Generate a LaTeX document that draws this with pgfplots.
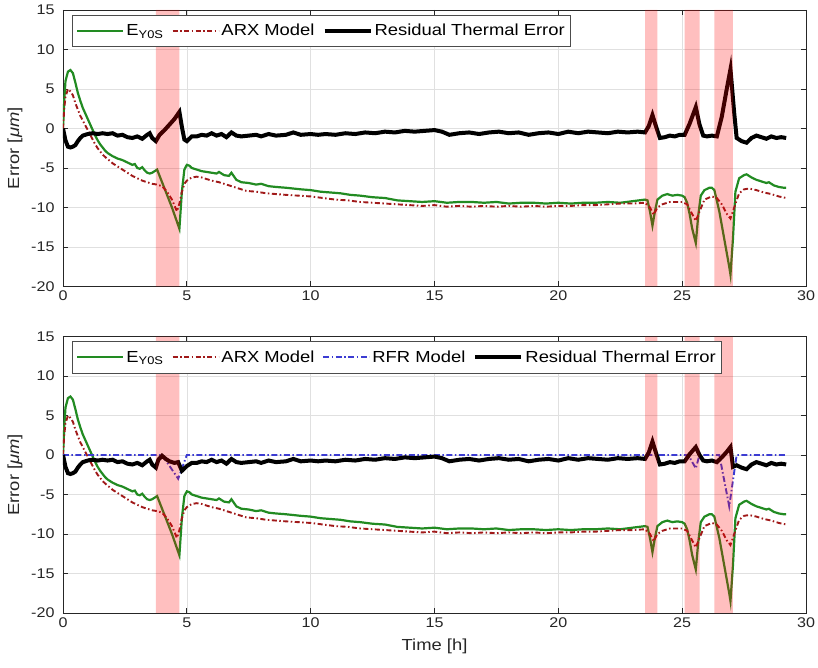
\documentclass[border=0pt]{standalone}
\usepackage{fontspec}
\setmainfont{Liberation Sans}[FakeStretch=1.15]
\usepackage{pgfplots}
\usepackage{pgfplotstable}
\pgfplotsset{compat=1.18}
\definecolor{eg}{RGB}{34,139,34}
\definecolor{arx}{RGB}{160,25,25}
\definecolor{rfr}{RGB}{60,60,210}
\definecolor{axgray}{RGB}{38,38,38}

\pgfplotstableread{
t y
0 0
0.05 3.5
0.1 6.0
0.2 7.2
0.3 7.4
0.4 7.0
0.5 5.8
0.6 4.5
0.7 3.5
0.8 2.6
0.9 1.9
1.0 1.2
1.1 0.5
1.2 -0.2
1.3 -0.9
1.4 -1.5
1.5 -2.0
1.6 -2.4
1.7 -2.8
1.8 -3.1
1.9 -3.3
2.0 -3.5
2.2 -3.8
2.4 -4.0
2.6 -4.3
2.8 -4.6
2.9 -4.5
3.0 -5.0
3.1 -5.1
3.2 -4.9
3.3 -5.3
3.4 -5.6
3.5 -5.7
3.6 -5.6
3.7 -5.4
3.8 -5.2
4.0 -6.8
4.2 -8.4
4.4 -10.0
4.6 -11.8
4.7 -12.7
4.8 -8.0
4.9 -5.2
5.0 -4.6
5.1 -4.7
5.2 -5.0
5.4 -5.2
5.6 -5.4
5.8 -5.5
6.0 -5.6
6.2 -5.7
6.3 -5.5
6.5 -5.9
6.7 -6.0
6.8 -5.6
7.0 -6.5
7.2 -6.8
7.5 -6.9
7.8 -7.1
8.0 -7.0
8.3 -7.3
8.6 -7.4
9.0 -7.5
9.3 -7.6
9.6 -7.7
10.0 -7.8
10.4 -8.0
10.8 -8.1
11.2 -8.2
11.6 -8.4
12.0 -8.5
12.5 -8.7
13.0 -8.8
13.5 -9.1
14.0 -9.2
14.5 -9.3
15.0 -9.2
15.5 -9.4
16.0 -9.3
16.5 -9.3
17.0 -9.4
17.5 -9.3
18.0 -9.5
18.5 -9.4
19.0 -9.4
19.5 -9.5
20.0 -9.4
20.5 -9.5
21.0 -9.4
21.5 -9.4
22.0 -9.3
22.5 -9.4
23.0 -9.2
23.5 -9.0
23.6 -9.1
23.7 -10.5
23.8 -12.3
23.9 -10.5
24.0 -9.0
24.2 -8.5
24.4 -8.3
24.6 -8.5
24.8 -8.4
25.0 -8.5
25.1 -8.7
25.2 -9.4
25.3 -10.8
25.4 -12.6
25.55 -14.5
25.65 -11.0
25.75 -8.5
25.9 -7.8
26.1 -7.5
26.2 -7.5
26.3 -7.8
26.5 -10.5
26.7 -14.0
26.9 -17.5
26.95 -18.5
27.05 -14.0
27.15 -8.0
27.3 -6.3
27.5 -5.9
27.6 -5.8
27.8 -6.2
28.0 -6.5
28.2 -6.7
28.4 -6.9
28.5 -6.8
28.7 -7.2
28.9 -7.4
29.1 -7.5
29.2 -7.5
}\tabE

\pgfplotstableread{
t y
0 0
0.05 2.5
0.1 4.0
0.2 5.0
0.3 4.7
0.4 4.2
0.5 3.2
0.6 2.4
0.7 1.6
0.8 1.0
0.9 0.4
1.0 -0.2
1.1 -0.8
1.2 -1.4
1.3 -2.0
1.4 -2.5
1.5 -2.9
1.6 -3.3
1.7 -3.6
1.8 -3.9
1.9 -4.1
2.0 -4.4
2.2 -4.8
2.4 -5.2
2.6 -5.6
2.8 -6.0
3.0 -6.3
3.2 -6.6
3.4 -6.8
3.6 -7.0
3.8 -7.1
4.0 -7.3
4.2 -8.0
4.4 -9.0
4.6 -10.5
4.7 -9.5
4.8 -8.0
4.9 -7.0
5.0 -6.6
5.2 -6.2
5.4 -6.1
5.6 -6.2
5.8 -6.4
6.0 -6.6
6.3 -6.8
6.6 -7.1
7.0 -7.5
7.4 -7.9
7.8 -8.0
8.2 -8.2
8.6 -8.3
9.0 -8.4
9.5 -8.5
10.0 -8.6
10.5 -8.8
11.0 -9.0
11.5 -9.1
12.0 -9.3
12.5 -9.4
13.0 -9.5
13.5 -9.6
14.0 -9.7
14.5 -9.8
15.0 -9.7
15.5 -9.9
16.0 -9.8
16.5 -9.9
17.0 -9.8
17.5 -9.9
18.0 -9.8
18.5 -9.9
19.0 -9.8
19.5 -9.9
20.0 -9.8
20.5 -9.8
21.0 -9.7
21.5 -9.7
22.0 -9.6
22.5 -9.5
23.0 -9.5
23.5 -9.4
23.7 -10.0
23.85 -10.9
24.0 -10.0
24.2 -9.6
24.5 -9.3
25.0 -9.3
25.2 -9.6
25.4 -10.8
25.55 -11.7
25.7 -10.5
25.9 -9.0
26.2 -8.6
26.4 -8.8
26.6 -9.6
26.8 -10.8
26.95 -11.4
27.1 -10.0
27.3 -8.2
27.5 -7.7
27.7 -7.6
28.0 -7.8
28.3 -8.1
28.6 -8.3
28.9 -8.6
29.2 -8.8
}\tabA

\pgfplotstableread{
t y
0 0
0.1 -1.5
0.2 -2.3
0.3 -2.4
0.4 -2.3
0.5 -2.1
0.6 -1.6
0.7 -1.2
0.8 -0.9
1.0 -0.7
1.2 -0.6
1.4 -0.7
1.6 -0.6
1.8 -0.7
2.0 -0.6
2.2 -0.9
2.4 -0.8
2.6 -1.1
2.8 -1.2
3.0 -1.0
3.2 -1.3
3.4 -0.8
3.5 -0.6
3.6 -1.2
3.75 -1.6
3.9 -0.8
4.1 -0.2
4.3 0.5
4.5 1.2
4.7 2.1
4.8 0.2
4.9 -1.4
5.0 -1.6
5.2 -1.0
5.4 -1.0
5.6 -0.8
5.8 -0.9
6.0 -0.6
6.2 -0.9
6.4 -0.7
6.6 -1.1
6.8 -0.5
7.0 -0.9
7.2 -1.0
7.5 -0.9
7.8 -0.8
8.0 -1.0
8.3 -0.7
8.6 -0.9
9.0 -0.8
9.3 -0.5
9.6 -0.8
10.0 -0.7
10.3 -0.8
10.6 -0.7
11.0 -0.8
11.4 -0.6
11.8 -0.7
12.2 -0.5
12.6 -0.6
13.0 -0.4
13.4 -0.5
13.8 -0.3
14.2 -0.4
14.6 -0.3
15.0 -0.2
15.3 -0.4
15.6 -0.8
16.0 -0.6
16.4 -0.5
16.8 -0.7
17.2 -0.5
17.6 -0.4
18.0 -0.6
18.4 -0.5
18.8 -0.8
19.2 -0.6
19.6 -0.5
20.0 -0.7
20.4 -0.4
20.8 -0.6
21.2 -0.4
21.6 -0.5
22.0 -0.6
22.4 -0.4
22.8 -0.5
23.2 -0.4
23.5 -0.5
23.65 0.3
23.8 1.7
23.95 0.2
24.1 -1.2
24.3 -1.1
24.5 -0.9
24.7 -1.0
24.9 -0.8
25.1 -0.8
25.3 0.6
25.55 2.7
25.7 0.5
25.85 -0.9
26.0 -1.0
26.2 -0.9
26.4 -1.0
26.6 1.5
26.8 5.0
26.95 7.5
27.1 2.0
27.2 -1.2
27.4 -1.6
27.6 -1.8
27.8 -1.2
28.0 -0.9
28.2 -1.1
28.4 -1.3
28.6 -1.0
28.8 -1.2
29.0 -1.1
29.2 -1.2
}\tabR

\pgfplotstableread{
t y
0 0
0.1 -1.5
0.2 -2.3
0.3 -2.4
0.4 -2.3
0.5 -2.1
0.6 -1.6
0.7 -1.2
0.8 -0.9
1.0 -0.7
1.2 -0.6
1.4 -0.7
1.6 -0.6
1.8 -0.7
2.0 -0.6
2.2 -0.9
2.4 -0.8
2.6 -1.1
2.8 -1.2
3.0 -1.0
3.2 -1.3
3.4 -0.8
3.5 -0.6
3.6 -1.2
3.75 -1.6
3.85 -0.6
4.0 -0.1
4.15 -0.5
4.3 -0.8
4.5 -1.0
4.65 -0.9
4.8 -2.0
4.9 -1.7
5.0 -1.4
5.2 -1.0
5.4 -1.0
5.6 -0.8
5.8 -0.9
6.0 -0.6
6.2 -0.9
6.4 -0.7
6.6 -1.1
6.8 -0.5
7.0 -0.9
7.2 -1.0
7.5 -0.9
7.8 -0.8
8.0 -1.0
8.3 -0.7
8.6 -0.9
9.0 -0.8
9.3 -0.5
9.6 -0.8
10.0 -0.7
10.3 -0.8
10.6 -0.7
11.0 -0.8
11.4 -0.6
11.8 -0.7
12.2 -0.5
12.6 -0.6
13.0 -0.4
13.4 -0.5
13.8 -0.3
14.2 -0.4
14.6 -0.3
15.0 -0.2
15.3 -0.4
15.6 -0.8
16.0 -0.6
16.4 -0.5
16.8 -0.7
17.2 -0.5
17.6 -0.4
18.0 -0.6
18.4 -0.5
18.8 -0.8
19.2 -0.6
19.6 -0.5
20.0 -0.7
20.4 -0.4
20.8 -0.6
21.2 -0.4
21.6 -0.5
22.0 -0.6
22.4 -0.4
22.8 -0.5
23.2 -0.4
23.5 -0.5
23.65 0.3
23.8 1.7
23.95 0.2
24.1 -1.2
24.3 -1.1
24.5 -0.9
24.7 -1.0
24.9 -0.8
25.1 -0.8
25.3 0.1
25.55 1.0
25.7 0.0
25.85 -0.7
26.0 -0.8
26.2 -0.7
26.4 -0.9
26.6 -0.3
26.8 0.4
26.95 1.0
27.05 -1.5
27.2 -1.3
27.4 -1.6
27.6 -1.8
27.8 -1.2
28.0 -0.9
28.2 -1.1
28.4 -1.3
28.6 -1.0
28.8 -1.2
29.0 -1.1
29.2 -1.2
}\tabRb

\pgfplotstableread{
t y
0 0
4.0 0
4.65 -3.0
5.0 0
25.25 0
25.55 -1.7
25.7 0
26.5 0
26.9 -6.5
27.2 0
29.2 0
}\tabB

\pgfplotsset{
  myaxis/.style={
    scale only axis, width=743pt, height=276.5pt,
    xmin=0, xmax=30, ymin=-20, ymax=15,
    xtick={0,5,...,30}, ytick={-20,-15,...,15},
    grid=major, major grid style={black!12, line width=0.6pt},
    tick align=inside, major tick length=5pt,
    axis line style={axgray, line width=0.7pt},
    every tick/.style={axgray, line width=0.7pt},
    tick label style={font=\fontsize{14}{16}\selectfont, text=axgray},
    yticklabel style={xshift=-5pt},
    xticklabel style={yshift=-1pt},
    label style={font=\fontsize{16}{18}\selectfont, text=axgray},
    ylabel style={yshift=2pt},
    xlabel style={yshift=-5pt},
    /pgf/number format/assume math mode=true,
    ylabel={Error [\textit{μm}]},
    legend style={at={(0.012,0.982)}, anchor=north west, draw=black!70,
      fill=white, line width=0.7pt, font=\fontsize{16}{18}\selectfont,
      text=black, inner xsep=4pt, inner ysep=7pt,
      /tikz/every even column/.append style={column sep=6pt}},
    legend columns=-1,
    legend image code/.code={\draw[##1] (0pt,0pt) -- (46pt,0pt);},
  },
  band/.style={draw=none, fill=red, fill opacity=0.25, forget plot},
  ge/.style={eg, line width=2.2pt},
  ar/.style={arx, line width=1.9pt, dash pattern=on 5pt off 2.5pt on 1.5pt off 2.5pt},
  rf/.style={rfr, line width=1.9pt, dash pattern=on 6pt off 2.5pt on 1.5pt off 2.5pt},
  re/.style={black, line width=4pt},
}

\begin{document}
\begin{tikzpicture}
\useasboundingbox (0pt,0pt) rectangle (818pt,667pt);
\begin{axis}[myaxis, at={(63pt,380.5pt)}, anchor=south west]
\addplot[ge] table[x=t,y=y] {\tabE};
\addlegendentry{E\textsubscript{Y0S}}
\addplot[ar] table[x=t,y=y] {\tabA};
\addlegendentry{ARX Model}
\addplot[re] table[x=t,y=y] {\tabR};
\addlegendentry{Residual Thermal Error}
\addplot[band] coordinates {(3.75,-20) (3.75,15) (4.7,15) (4.7,-20) (3.75,-20)};
\addplot[band] coordinates {(23.5,-20) (23.5,15) (24.0,15) (24.0,-20) (23.5,-20)};
\addplot[band] coordinates {(25.1,-20) (25.1,15) (25.7,15) (25.7,-20) (25.1,-20)};
\addplot[band] coordinates {(26.3,-20) (26.3,15) (27.05,15) (27.05,-20) (26.3,-20)};
\end{axis}
\begin{axis}[myaxis, at={(63pt,54pt)}, anchor=south west, xlabel={Time [h]}]
\addplot[ge] table[x=t,y=y] {\tabE};
\addlegendentry{E\textsubscript{Y0S}}
\addplot[ar] table[x=t,y=y] {\tabA};
\addlegendentry{ARX Model}
\addplot[rf] table[x=t,y=y] {\tabB};
\addlegendentry{RFR Model}
\addplot[re] table[x=t,y=y] {\tabRb};
\addlegendentry{Residual Thermal Error}
\addplot[band] coordinates {(3.75,-20) (3.75,15) (4.7,15) (4.7,-20) (3.75,-20)};
\addplot[band] coordinates {(23.5,-20) (23.5,15) (24.0,15) (24.0,-20) (23.5,-20)};
\addplot[band] coordinates {(25.1,-20) (25.1,15) (25.7,15) (25.7,-20) (25.1,-20)};
\addplot[band] coordinates {(26.3,-20) (26.3,15) (27.05,15) (27.05,-20) (26.3,-20)};
\end{axis}
\end{tikzpicture}
\end{document}
